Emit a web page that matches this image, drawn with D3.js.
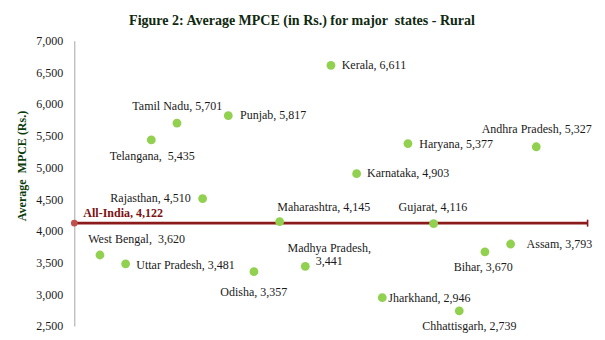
<!DOCTYPE html>
<html>
<head>
<meta charset="utf-8">
<script src="https://cdn.jsdelivr.net/npm/d3@7/dist/d3.min.js"></script>
<style>
  html, body { margin: 0; padding: 0; background: #fff; }
  svg text { font-family: "Liberation Serif", "Times New Roman", Tinos, serif; white-space: pre; }
</style>
</head>
<body>
<svg id="chart" width="605" height="340" font-family="Liberation Serif, Times New Roman, serif"></svg>
<script>
// Major states in plotting order along the horizontal axis
const states = ["West Bengal", "Uttar Pradesh", "Telangana", "Tamil Nadu", "Rajasthan", "Punjab",
  "Odisha", "Maharashtra", "Madhya Pradesh", "Kerala", "Karnataka", "Jharkhand", "Haryana",
  "Gujarat", "Chhattisgarh", "Bihar", "Assam", "Andhra Pradesh"];
// Average monthly per-capita consumption expenditure, rural (Rs.)
const mpce = [3620, 3481, 5435, 5701, 4510, 5817, 3357, 4145, 3441, 6611, 4903, 2946, 5377,
  4116, 2739, 3670, 3793, 5327];
const allIndia = 4122;
const yTicks = [2500, 3000, 3500, 4000, 4500, 5000, 5500, 6000, 6500, 7000];

// Label placement relative to each point, in pixels
const labelLayout = {
  "West Bengal":    { dx: -11.7, dy: -16,   sep: ",  " },
  "Uttar Pradesh":  { dx: 10.6,  dy: 0.7 },
  "Telangana":      { dx: -41.6, dy: 15.7,  sep: ",  " },
  "Tamil Nadu":     { dx: -44.6, dy: -16.6 },
  "Rajasthan":      { dx: -92.3, dy: -0.3 },
  "Punjab":         { dx: 11.7,  dy: -0.6 },
  "Odisha":         { dx: -33.6, dy: 20.4 },
  "Maharashtra":    { dx: -2.3,  dy: -14.6 },
  "Madhya Pradesh": { dx: 24,    dy: -18.6, anchor: "middle", wrap: true },
  "Kerala":         { dx: 10.7,  dy: 0 },
  "Karnataka":      { dx: 10.4,  dy: -0.7 },
  "Jharkhand":      { dx: 6,     dy: 0 },
  "Haryana":        { dx: 11.3,  dy: 0 },
  "Gujarat":        { dx: -35,   dy: -16.3 },
  "Chhattisgarh":   { dx: -37,   dy: 15.3 },
  "Bihar":          { dx: -31.3, dy: 15.6 },
  "Assam":          { dx: 16,    dy: 0 },
  "Andhra Pradesh": { dx: -54.6, dy: -17.3 }
};

const fmt = d3.format(",");
const serif = "Liberation Serif, Times New Roman, serif";
const svg = d3.select("#chart");

const x = d3.scaleLinear().domain([0, states.length + 2]).range([74.3, 587.6]);
const y = d3.scaleLinear().domain([2500, 7000]).range([326, 40.7]);

// Title
svg.append("text")
  .attr("x", 302).attr("y", 25)
  .attr("text-anchor", "middle")
  .attr("font-family", serif)
  .attr("font-size", 14).attr("font-weight", "bold")
  .attr("fill", "#0f2a0f")
  .text("Figure 2: Average MPCE (in Rs.) for major  states - Rural");

// Vertical axis
const yAxis = d3.axisLeft(y).tickValues(yTicks).tickFormat(fmt).tickSize(0).tickPadding(11);
const gy = svg.append("g").attr("transform", `translate(${x(0)},0)`).call(yAxis)
  .attr("font-family", serif);
gy.select(".domain").attr("stroke", "#a6a6a6").attr("stroke-width", 1);
gy.selectAll("text")
  .attr("font-family", serif)
  .attr("font-size", 12).attr("fill", "#1a1a1a");

// Vertical axis title
svg.append("text")
  .attr("transform", "translate(25.5,166) rotate(-90)")
  .attr("text-anchor", "middle")
  .attr("font-family", serif)
  .attr("font-size", 12).attr("font-weight", "bold")
  .attr("fill", "#0b3d0b")
  .text("Average  MPCE (Rs.)");

// All-India reference line
const yA = y(allIndia);
svg.append("line")
  .attr("x1", x(0)).attr("x2", x(states.length + 2))
  .attr("y1", yA).attr("y2", yA)
  .attr("stroke", "#8b1a1a").attr("stroke-width", 2.6);
svg.append("line")
  .attr("x1", x(states.length + 2)).attr("x2", x(states.length + 2))
  .attr("y1", yA - 3.5).attr("y2", yA + 3.5)
  .attr("stroke", "#8b1a1a").attr("stroke-width", 1.6);
svg.append("circle")
  .attr("cx", x(0)).attr("cy", yA).attr("r", 3.3)
  .attr("fill", "#c0504d");
svg.append("text")
  .attr("x", x(0) + 9).attr("y", yA - 10 + 4)
  .attr("font-family", serif)
  .attr("font-size", 12).attr("font-weight", "bold")
  .attr("fill", "#7a1414")
  .text("All-India, " + fmt(allIndia));

// State points
const pts = states.map((s, i) => ({ name: s, value: mpce[i], idx: i + 1 }));
svg.append("g").selectAll("circle")
  .data(pts).join("circle")
  .attr("cx", d => x(d.idx)).attr("cy", d => y(d.value))
  .attr("r", 4.4)
  .attr("fill", "#92d050");

// Point labels
const lg = svg.append("g").attr("font-size", 12).attr("fill", "#1a1a1a")
  .attr("font-family", serif);
pts.forEach(d => {
  const L = labelLayout[d.name];
  const px = x(d.idx) + L.dx;
  const py = y(d.value) + L.dy + 4;
  const t = lg.append("text")
    .attr("x", px).attr("y", py)
    .attr("text-anchor", L.anchor || "start");
  if (L.wrap) {
    t.append("tspan").attr("x", px).text(d.name + ",");
    t.append("tspan").attr("x", px).attr("dy", 13).text(fmt(d.value));
  } else {
    t.text(d.name + (L.sep || ", ") + fmt(d.value));
  }
});
</script>
</body>
</html>
